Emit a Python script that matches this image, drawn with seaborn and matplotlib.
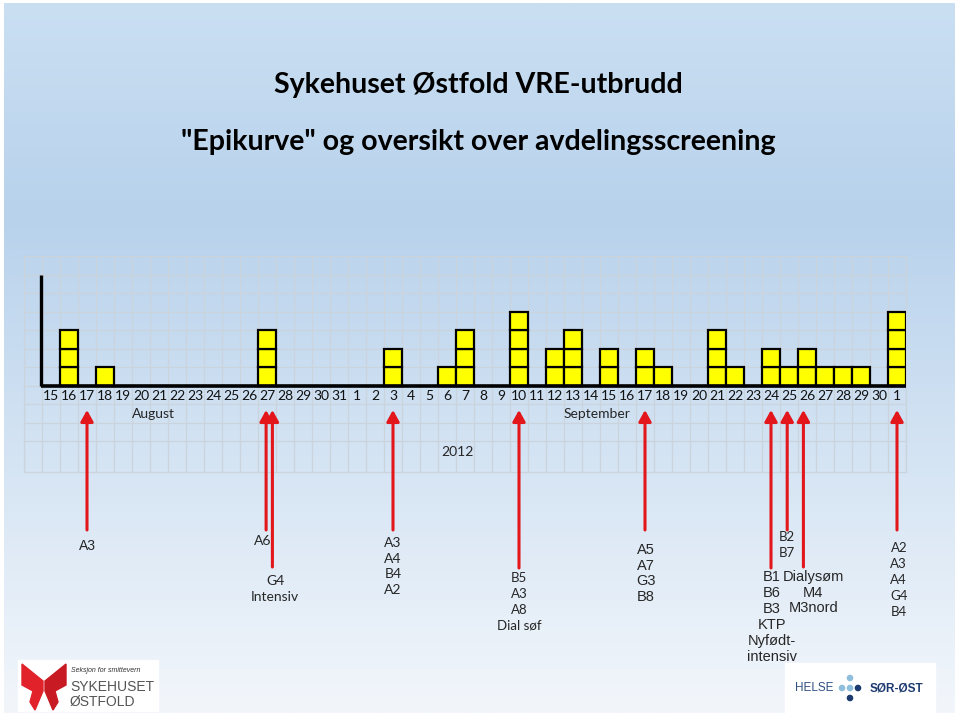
import numpy as np
import pandas as pd
import seaborn as sns
import matplotlib.pyplot as plt
from matplotlib.colors import LinearSegmentedColormap
from matplotlib.patches import Polygon, Rectangle, Circle

sns.set_theme(style="white")
plt.rcParams['font.family'] = ['Lato', 'DejaVu Sans']

# cases per day, 15 Aug - 1 Oct 2012
days = pd.date_range("2012-08-15", "2012-10-01", freq="D")
day_keys = [d.strftime("%Y-%m-%d") for d in days]
day_labels = [str(d.day) for d in days]
cases = [0, 3, 0, 1, 0, 0, 0, 0, 0, 0, 0, 0, 3, 0, 0, 0, 0,
         0, 0, 2, 0, 0, 1, 3, 0, 0, 4, 0, 2, 3, 0, 2, 0, 2, 1,
         0, 0, 3, 1, 0, 2, 1, 2, 1, 1, 1, 0,
         4]

# screening arrows: day, wards
arrow_days = ["2012-08-17", "2012-08-27", "2012-08-27", "2012-09-03", "2012-09-10",
              "2012-09-17", "2012-09-24", "2012-09-25", "2012-09-26", "2012-10-01"]
arrow_wards = [["A3"], ["A6"], ["G4", "Intensiv"], ["A3", "A4", "B4", "A2"],
               ["B5", "A3", "A8", "Dial søf"], ["A5", "A7", "G3", "B8"],
               ["B1", "B6", "B3", "KTP", "Nyfødt-", "intensiv"], ["B2", "B7"],
               ["Dialysøm", "M4", "M3nord"], ["A2", "A3", "A4", "G4", "B4"]]

W, H = 960, 716
fig = plt.figure(figsize=(W / 100, H / 100), dpi=100)
fig.patch.set_facecolor("white")

# background gradient
bg = fig.add_axes([0, 0, 1, 1])
bg.axis("off")
cmap = LinearSegmentedColormap.from_list(
    "bg", [(0, "#cadff2"), (0.3, "#b8d2ec"), (0.62, "#d3e3f3"), (1, "#f2f6fb")])
grad = np.linspace(0, 1, 256).reshape(-1, 1)
bg.imshow(grad, cmap=cmap, aspect="auto", extent=[4, 955, 713, 3], zorder=0)
bg.set_xlim(0, W)
bg.set_ylim(H, 0)

fig.text(0.498, 1 - 85 / H, "Sykehuset Østfold VRE-utbrudd", ha="center", va="center",
         fontsize=20.5, fontweight="bold", color="black")
fig.text(0.498, 1 - 142 / H, "\"Epikurve\" og oversikt over avdelingsscreening",
         ha="center", va="center", fontsize=20.5, fontweight="bold", color="black")

# epicurve
ax = fig.add_axes([24 / W, 1 - 472 / H, 882 / W, 216 / H])
ax.set_facecolor("none")
counts = dict(zip(day_keys, cases))
for level in range(max(cases)):
    sub = [k for k in day_keys if counts[k] > level]
    sns.barplot(x=sub, y=[1] * len(sub), order=day_keys, color="#ffff00", saturation=1,
                edgecolor="black", linewidth=1.6, width=1.0, bottom=level,
                errorbar=None, ax=ax, zorder=3)

ax.set_xlim(-1.5, 47.5)
ax.set_ylim(-4.66, 7)
ax.set_xticks(np.arange(-1.5, 48, 1))
ax.set_yticks(np.arange(-3, 8, 1))
ax.grid(True, color="#cbd3dc", linewidth=0.9)
ax.tick_params(length=0, labelbottom=False, labelleft=False)
ax.set_xlabel("")
ax.set_ylabel("")
for s in ax.spines.values():
    s.set_color("#cbd3dc")
    s.set_linewidth(0.9)

ax.plot([-0.556, -0.556], [0, 6], color="black", lw=2.4, solid_capstyle="butt", zorder=4)
ax.plot([-0.556, 47.5], [0, 0], color="black", lw=2.6, solid_capstyle="butt", zorder=4)

for i, lab in enumerate(day_labels):
    ax.text(i, -0.58, lab, ha="center", va="center", fontsize=10, color="#111111")
ax.text(5.67, -1.53, "August", ha="center", va="center", fontsize=10)
ax.text(30.33, -1.53, "September", ha="center", va="center", fontsize=10)
ax.text(22.56, -3.58, "2012", ha="center", va="center", fontsize=10)

# arrows and ward labels
arrow_dx = [0, -0.05, 0.3, 0, 0, 0, 0, -0.1, -0.2, 0]
arrow_end = [530, 530, 567, 530, 568, 530, 568, 530, 567, 530]
label_dx = [0, -0.25, 0.45, 0, 0, 0.05, 0.05, -0.1, 0.35, 0.1]
label_y0 = [546, 541, 581, 543, 578, 550, 577, 537, 577, 548]
label_step = [16, 16, 16, 15.7, 16, 15.7, 16, 16, 15.7, 16]
label_font = ["Liberation Sans", "Lato", "Lato", "Lato", "Lato", "Liberation Sans",
              "Liberation Sans", "Lato", "Liberation Sans", "Lato"]
label_size = [10, 10, 10, 10, 9.5, 10.5, 10.5, 9.5, 10.5, 9.5]
red = "#e3161c"
for j, key in enumerate(arrow_days):
    xd = day_keys.index(key) + arrow_dx[j]
    ax.annotate("", xy=(xd, H - 410), xycoords=("data", "figure pixels"),
                xytext=(xd, H - arrow_end[j]), textcoords=("data", "figure pixels"),
                arrowprops=dict(arrowstyle="-|>,head_length=0.45,head_width=0.25",
                                color=red, lw=2.2, mutation_scale=15,
                                shrinkA=0, shrinkB=0),
                annotation_clip=False, zorder=6)
    xl = day_keys.index(key) + label_dx[j]
    for n, ward in enumerate(arrow_wards[j]):
        ax.annotate(ward, xy=(xl, H - (label_y0[j] + n * label_step[j])),
                    xycoords=("data", "figure pixels"), ha="center", va="center",
                    fontsize=label_size[j], family=[label_font[j], "DejaVu Sans"],
                    annotation_clip=False)

# logos
top = fig.add_axes([0, 0, 1, 1], facecolor="none")
top.set_xlim(0, W)
top.set_ylim(H, 0)
top.axis("off")
top.add_patch(Rectangle((18, 660), 140, 51, color="white", zorder=1))
top.add_patch(Polygon([(22, 664), (43, 681), (43, 691), (35, 710), (30, 702), (33, 691), (22, 685)],
                      closed=True, color="#e1222b", zorder=2))
top.add_patch(Polygon([(66, 664), (45, 681), (45, 691), (53, 710), (58, 702), (55, 691), (66, 685)],
                      closed=True, color="#c81a22", zorder=2))
top.text(71, 671, "Seksjon for smittevern", fontsize=5, style="italic", color="#333333",
         va="center", family=["Liberation Sans"], zorder=3)
top.text(70, 687, "SYKEHUSET", fontsize=10, color="#555555", va="center",
         family=["Liberation Sans"], zorder=3)
top.text(70, 702, "ØSTFOLD", fontsize=10, color="#555555", va="center",
         family=["Liberation Sans"], zorder=3)

top.add_patch(Rectangle((785, 663), 150, 49, color="white", zorder=1))
top.text(814, 688, "HELSE", fontsize=8.5, color="#2f4f80", ha="center", va="center",
         family=["Liberation Sans"], zorder=3)
top.text(896, 688, "SØR-ØST", fontsize=8.5, fontweight="bold", color="#1c3a70",
         ha="center", va="center", family=["Liberation Sans"], zorder=3)
for (cx, cy, c) in [(842, 688, "#8fbfdc"), (850, 678, "#8fbfdc"), (850, 688, "#8fbfdc"),
                    (858, 688, "#1c3a70"), (850, 698, "#1c3a70")]:
    top.add_patch(Circle((cx, cy), 2.6, color=c, zorder=3))

fig.savefig("out.png", dpi=100)
